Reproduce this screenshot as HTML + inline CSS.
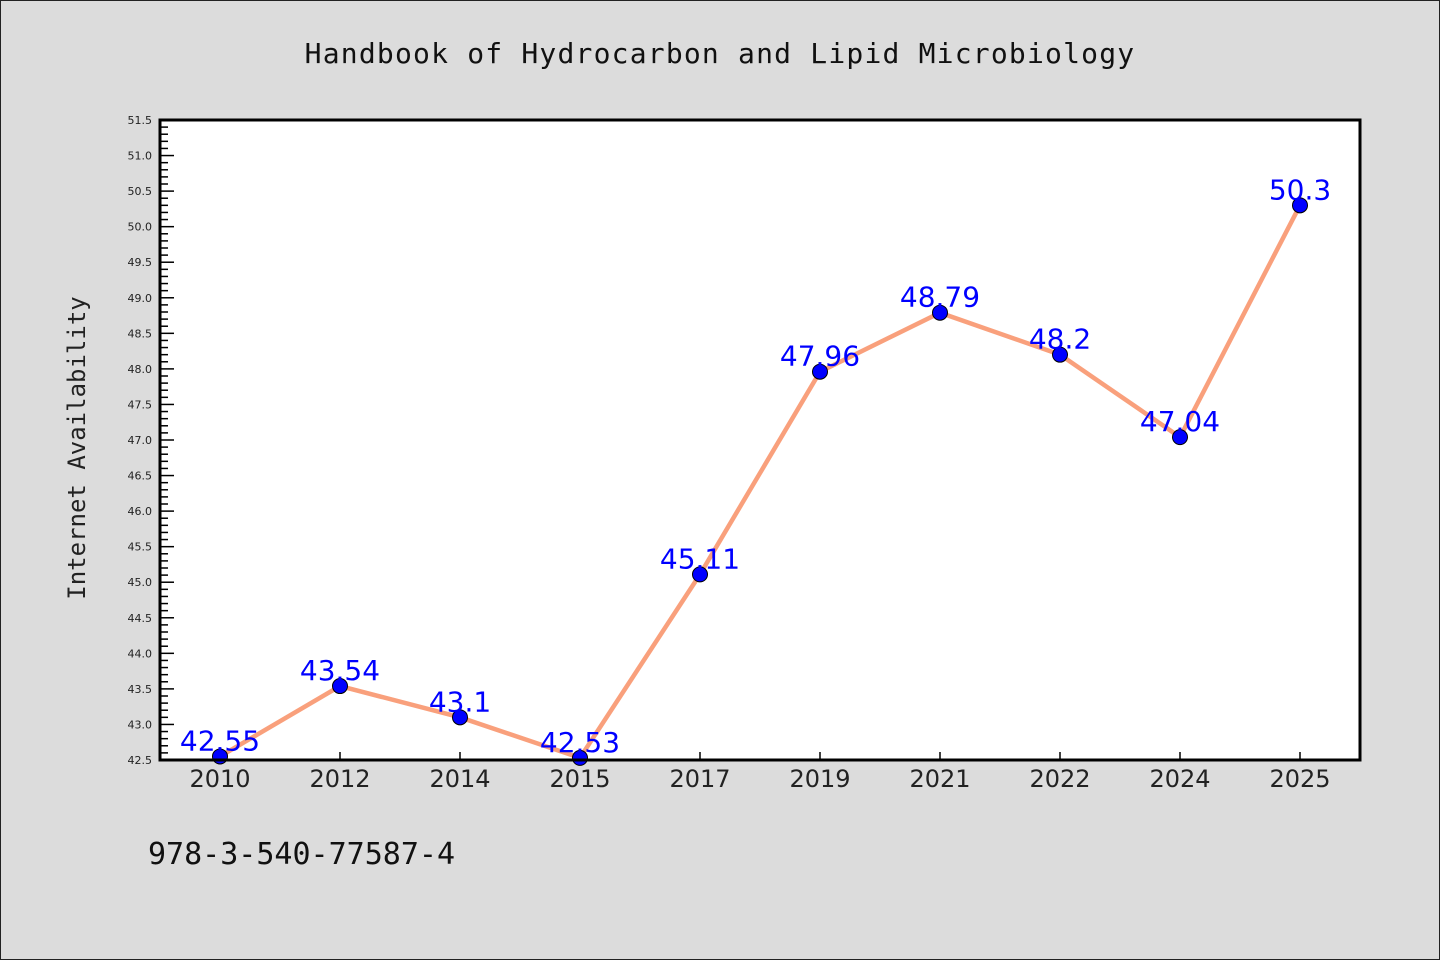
<!DOCTYPE html>
<html><head><meta charset="utf-8"><style>
body{margin:0;background:#dcdcdc}
svg{display:block;font-family:"DejaVu Sans","Liberation Sans",sans-serif}
</style></head><body>
<svg width="1440" height="960">
<rect x="0.5" y="0.5" width="1439" height="959" fill="#dcdcdc" stroke="#222"/>
<text x="720" y="63" text-anchor="middle" font-family="DejaVu Sans Mono, Liberation Mono, monospace" font-size="28" letter-spacing="1.2" fill="#111">Handbook of Hydrocarbon and Lipid Microbiology</text>
<text transform="translate(85,448) rotate(-90)" text-anchor="middle" font-family="DejaVu Sans Mono, Liberation Mono, monospace" font-size="24" fill="#222">Internet Availability</text>
<text x="148" y="864" font-family="DejaVu Sans Mono, Liberation Mono, monospace" font-size="30" fill="#111">978-3-540-77587-4</text>
<rect x="160" y="120" width="1200" height="640" fill="#fff"/>
<g id="axes"></g>
<g id="marks"></g>
<rect x="160" y="120" width="1200" height="640" fill="none" stroke="#000" stroke-width="3"/>
</svg>
<script>
const categories=["2010","2012","2014","2015","2017","2019","2021","2022","2024","2025"];
const values=[42.55,43.54,43.1,42.53,45.11,47.96,48.79,48.2,47.04,50.3];
const labels=["42.55","43.54","43.1","42.53","45.11","47.96","48.79","48.2","47.04","50.3"];
const yMin=42.5,yMax=51.5;
const NS="http://www.w3.org/2000/svg";
const L=160,T=120,W=1200,H=640;
const x=i=>L+60+i*120;
const y=v=>T+H-(v-yMin)/(yMax-yMin)*H;
function mk(tag,attrs,parent){const e=document.createElementNS(NS,tag);for(const k in attrs)e.setAttribute(k,attrs[k]);parent.appendChild(e);return e;}
const ax=document.getElementById('axes'),mg=document.getElementById('marks');
for(let k=0;k<=90;k++){
  const v=yMin+k*0.1,yy=y(v),major=k%5===0;
  const t=mk('line',{x1:L,x2:L+(major?14:8),y1:yy,y2:yy,stroke:'#000','stroke-width':1.5},ax);
  
  
  if(major){
    const tx=mk('text',{x:L-8,y:yy+4,'text-anchor':'end','font-size':11,fill:'#222'},ax);
    tx.textContent=v.toFixed(1);
    
    
  }
}
categories.forEach((c,i)=>{
  const t=mk('line',{x1:x(i),x2:x(i),y1:T+H,y2:T+H-8,stroke:'#000','stroke-width':1.5},ax);
  
  
  const tx=mk('text',{x:x(i),y:T+H+27,'text-anchor':'middle','font-size':24,fill:'#222'},ax);
  tx.textContent=c;
  
  
});
const pl=mk('polyline',{points:values.map((v,i)=>x(i)+','+y(v)).join(' '),fill:'none',stroke:'#f9a07c','stroke-width':4.5},mg);


values.forEach((v,i)=>{
  const c=mk('circle',{cx:x(i),cy:y(v),r:7.5,fill:'#0000ff',stroke:'#000','stroke-width':1},mg);
  
  
  const tx=mk('text',{x:x(i),y:y(v)-6,'text-anchor':'middle','font-size':28,fill:'#0000ff'},mg);
  tx.textContent=labels[i];
  
  
});
</script>
</body></html>
